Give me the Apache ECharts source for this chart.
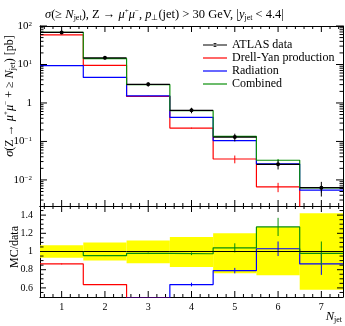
<!DOCTYPE html>
<html><head><meta charset="utf-8">
<script src="https://cdn.jsdelivr.net/npm/echarts@6/dist/echarts.min.js"></script>
<style>html,body{margin:0;padding:0;background:#fff}#c{width:345px;height:326px}</style>
</head><body><div id="c"></div>
<script>
// ---------- data ----------
const nJet = [1, 2, 3, 4, 5, 6, 7];
const xTickLabels = ['1', '2', '3', '4', '5', '6', '7'];
const yTickValues = [0.01, 0.1, 1, 10, 100];
const yTickLabels = ['10{sup|−2}', '10{sup|−1}', '1', '10{sup|1}', '10{sup|2}'];
const ratioTickValues = [0.6, 0.8, 1, 1.2, 1.4];
const ratioTickLabels = ['0.6', '0.8', '1', '1.2', '1.4'];

const atlasData = [68, 14.9, 3.05, 0.645, 0.13, 0.0255, 0.0063];
const atlasErr  = [4.8, 1.5, 0.39, 0.105, 0.029, 0.0068, 0.0026];

const drellYan   = [59, 9.5, 1.48, 0.222, 0.035, 0.0066, 0.0015];
const drellYanErr= [0.3, 0.05, 0.015, 0.006, 0.008, 0.0018, 0.0005];
const radiation  = [9.3, 4.6, 1.52, 0.42, 0.105, 0.026, 0.0054];
const radiationErr=[0.1, 0.05, 0.015, 0.008, 0.004, 0.002, 0.0007];
const combined   = [68.3, 14.2, 3.0, 0.63, 0.135, 0.0324, 0.0062];
const combinedErr= [0.3, 0.07, 0.02, 0.01, 0.007, 0.0026, 0.0008];

const bandLow  = [0.93, 0.90, 0.87, 0.83, 0.76, 0.74, 0.58];
const bandHigh = [1.07, 1.10, 1.12, 1.16, 1.20, 1.27, 1.42];

const ratioDY     = [0.863, 0.637, 0.49, 0.35, 0.27, 0.26, 0.24];
const ratioDYErr  = [0.005, 0.005, 0.01, 0.02, 0.02, 0.03, 0.05];
const ratioRad    = [0.14, 0.31, 0.49, 0.637, 0.79, 1.03, 0.863];
const ratioRadErr = [0.01, 0.01, 0.01, 0.02, 0.03, 0.08, 0.12];
const ratioComb   = [1.0, 0.955, 0.98, 0.975, 1.04, 1.27, 0.98];
const ratioCombErr= [0.005, 0.005, 0.008, 0.015, 0.05, 0.1, 0.13];
const ratioData   = [1, 1, 1, 1, 1, 1, 1];

// ---------- axis ranges ----------
const X_MIN = 0.5, X_MAX = 7.5;
const Y_MIN = 0.0021, Y_MAX = 100;
const R_MIN = 0.5, R_MAX = 1.5;

// ---------- styling ----------
const SERIF = 'Liberation Serif';
const RED = '#ff0000', BLUE = '#0000ff', GREEN = '#0a8f0a', YELLOW = '#ffff00';
const richBase = {
  sup: {fontSize: 7, fontFamily: SERIF, verticalAlign: 'top', lineHeight: 8},
  sub: {fontSize: 8, fontFamily: SERIF, verticalAlign: 'bottom', lineHeight: 8},
  i: {fontStyle: 'italic', fontFamily: SERIF, fontSize: 12.5, lineHeight: 14}
};

// ---------- tick positions ----------
const xMinor = [];
for (let k = 3; k <= 37; k++) { const v = k * 0.2; if (Math.abs(v - Math.round(v)) > 1e-6) xMinor.push(+v.toFixed(2)); }
const yMinor = [];
for (let e = -3; e <= 1; e++) for (let m = 2; m <= 9; m++) { const v = +(m * Math.pow(10, e)).toPrecision(3); if (v > Y_MIN && v < Y_MAX) yMinor.push(v); }
const rMinor = [];
for (let k = 11; k <= 29; k++) { const v = +(k * 0.05).toFixed(2); if (!ratioTickValues.some(t => Math.abs(t - v) < 1e-6)) rMinor.push(v); }

// ---------- builders ----------
function stepData(vals) {
  const d = nJet.map((n, i) => [n - 0.5, vals[i]]);
  d.push([nJet[nJet.length - 1] + 0.5, vals[vals.length - 1]]);
  return d;
}
function errData(vals, errs) { return nJet.map((n, i) => [n, vals[i], vals[i] - errs[i], vals[i] + errs[i]]); }
function stepSeries(name, vals, color, xi, yi) {
  return {type: 'line', name: name, xAxisIndex: xi, yAxisIndex: yi, data: stepData(vals), step: 'end',
    symbol: 'none', lineStyle: {color: color, width: 1.2}, itemStyle: {color: color}, clip: true, z: 3, silent: true};
}
function errSeries(vals, errs, color, xi, yi) {
  return {type: 'custom', xAxisIndex: xi, yAxisIndex: yi, data: errData(vals, errs), clip: true, z: 4, silent: true,
    renderItem: function (params, api) {
      const x = api.value(0);
      const a = api.coord([x, Math.max(api.value(2), 1e-6)]), b = api.coord([x, api.value(3)]);
      return {type: 'line', shape: {x1: a[0], y1: a[1], x2: b[0], y2: b[1]}, style: {stroke: color, lineWidth: 1}};
    }};
}
function dataSeries(vals, errs, xi, yi, showPoint) {
  return {type: 'custom', xAxisIndex: xi, yAxisIndex: yi, data: errData(vals, errs), clip: true, z: 5, silent: true,
    renderItem: function (params, api) {
      const x = api.value(0), v = api.value(1);
      const l = api.coord([x - 0.5, v]), r = api.coord([x + 0.5, v]);
      const a = api.coord([x, Math.max(api.value(2), 1e-6)]), b = api.coord([x, api.value(3)]);
      const c = api.coord([x, v]);
      const ch = [{type: 'line', shape: {x1: l[0], y1: l[1], x2: r[0], y2: r[1]}, style: {stroke: '#000', lineWidth: 1.2}}];
      if (showPoint) {
        ch.push({type: 'line', shape: {x1: a[0], y1: a[1], x2: b[0], y2: b[1]}, style: {stroke: '#000', lineWidth: 1}});
        ch.push({type: 'circle', shape: {cx: c[0], cy: c[1], r: 2}, style: {fill: '#000'}});
      }
      return {type: 'group', children: ch};
    }};
}
function bandSeries(lo, hi, xi, yi) {
  return {type: 'custom', xAxisIndex: xi, yAxisIndex: yi, data: nJet.map((n, i) => [n, lo[i], hi[i]]), clip: true, z: 1, silent: true,
    renderItem: function (params, api) {
      const x = api.value(0);
      const p1 = api.coord([x - 0.5, api.value(2)]), p2 = api.coord([x + 0.5, api.value(1)]);
      return {type: 'rect', shape: {x: p1[0], y: p1[1], width: p2[0] - p1[0], height: p2[1] - p1[1]}, style: {fill: YELLOW}};
    }};
}
// tick marks as thin rectangle symbols placed on the frame through the axes' scales
function tickItems(yLo, yHi, xMaj, xMin, yMaj, yMin2, xLen, yLen) {
  const d = [];
  const xt = (v, len) => {
    d.push({value: [v, yLo], symbolSize: [1, len], symbolOffset: [0, -len / 2]});
    d.push({value: [v, yHi], symbolSize: [1, len], symbolOffset: [0, len / 2]});
  };
  const yt = (v, len) => {
    d.push({value: [X_MIN, v], symbolSize: [len, 1], symbolOffset: [len / 2, 0]});
    d.push({value: [X_MAX, v], symbolSize: [len, 1], symbolOffset: [-len / 2, 0]});
  };
  xMaj.forEach(v => xt(v, xLen)); xMin.forEach(v => xt(v, 3));
  yMaj.forEach(v => yt(v, yLen)); yMin2.forEach(v => yt(v, 3.5));
  return d;
}
function tickScatter(xi, yi, items) {
  return {type: 'scatter', xAxisIndex: xi, yAxisIndex: yi, data: items, symbol: 'rect', clip: false, z: 6, silent: true,
    itemStyle: {color: '#000', opacity: 1}, emphasis: {disabled: true}, large: false};
}

// ---------- axes ----------
const lineStyleAx = {color: '#000', width: 1};
function xAx(grid, pos, showLabel) {
  const ax = {type: 'value', gridIndex: grid, position: pos, min: X_MIN, max: X_MAX, splitLine: {show: false},
    axisLine: {show: true, onZero: false, lineStyle: lineStyleAx}, axisTick: {show: false}, axisLabel: {show: false}};
  if (showLabel) {
    ax.axisLabel = {show: true, customValues: nJet, margin: 5, color: '#000', fontFamily: SERIF, fontSize: 10,
      formatter: v => xTickLabels[nJet.indexOf(Math.round(v))] || ''};
  }
  return ax;
}
function logAx(pos, showLabel) {
  const ax = {type: 'log', logBase: 10, gridIndex: 0, position: pos, min: Y_MIN, max: Y_MAX, splitLine: {show: false},
    axisLine: {show: true, onZero: false, lineStyle: lineStyleAx}, axisTick: {show: false}, axisLabel: {show: false}};
  if (showLabel) {
    ax.axisLabel = {show: true, customValues: yTickValues, margin: 8, color: '#000', fontFamily: SERIF, fontSize: 11,
      rich: {sup: {fontSize: 7, fontFamily: SERIF, verticalAlign: 'top', lineHeight: 8, color: '#000'}},
      formatter: v => { const k = yTickValues.findIndex(t => Math.abs(Math.log10(t) - Math.log10(v)) < 1e-3); return k >= 0 ? yTickLabels[k] : ''; }};
  }
  return ax;
}
function ratioAx(pos, showLabel) {
  const ax = {type: 'value', gridIndex: 1, position: pos, min: R_MIN, max: R_MAX, splitLine: {show: false},
    axisLine: {show: true, onZero: false, lineStyle: lineStyleAx}, axisTick: {show: false}, axisLabel: {show: false}};
  if (showLabel) {
    ax.axisLabel = {show: true, customValues: ratioTickValues, margin: 7, color: '#000', fontFamily: SERIF, fontSize: 10,
      formatter: v => { const k = ratioTickValues.findIndex(t => Math.abs(t - v) < 1e-6); return k >= 0 ? ratioTickLabels[k] : ''; }};
  }
  return ax;
}

const option = {
  animation: false,
  backgroundColor: '#fff',
  title: {
    left: 40, top: 3,
    text: '{i|σ}(≥ {i|N}{sub|jet}), Z → {i|μ}{sup|+}{i|μ}{sup|−}, {i|p}{sub|⊥}(jet) > 30 GeV, |{i|y}{sub|jet} < 4.4|',
    textStyle: {fontFamily: SERIF, fontSize: 12.5, fontWeight: 'normal', color: '#000', lineHeight: 14, rich: richBase}
  },
  grid: [
    {left: 40, right: 2, top: 26, height: 180},
    {left: 40, right: 2, top: 206, height: 91}
  ],
  legend: {
    orient: 'vertical', left: 198, top: 34, itemWidth: 24, itemHeight: 10, itemGap: 1,
    textStyle: {fontFamily: SERIF, fontSize: 12, color: '#000'},
    data: [
      {name: 'ATLAS data', icon: 'path://M0,4.4H24V5.6H0Z M10,5A2,2 0 1 0 14,5A2,2 0 1 0 10,5Z'},
      {name: 'Drell-Yan production', icon: 'path://M0,0H24V1.2H0Z'},
      {name: 'Radiation', icon: 'path://M0,0H24V1.2H0Z'},
      {name: 'Combined', icon: 'path://M0,0H24V1.2H0Z'}
    ]
  },
  xAxis: [
    xAx(0, 'bottom', false),
    xAx(0, 'top', false),
    xAx(1, 'bottom', true),
    xAx(1, 'top', false)
  ],
  yAxis: [
    logAx('left', true),
    logAx('right', false),
    ratioAx('left', true),
    ratioAx('right', false)
  ],
  series: [
    {type: 'line', name: 'ATLAS data', xAxisIndex: 0, yAxisIndex: 0, data: [], symbol: 'circle', symbolSize: 5,
      lineStyle: {color: '#000', width: 1.2}, itemStyle: {color: '#000'}},
    // main panel
    stepSeries('Drell-Yan production', drellYan, RED, 0, 0),
    stepSeries('Radiation', radiation, BLUE, 0, 0),
    stepSeries('Combined', combined, GREEN, 0, 0),
    errSeries(drellYan, drellYanErr, RED, 0, 0),
    errSeries(radiation, radiationErr, BLUE, 0, 0),
    errSeries(combined, combinedErr, GREEN, 0, 0),
    dataSeries(atlasData, atlasErr, 0, 0, true),
    tickScatter(0, 0, tickItems(Y_MIN, Y_MAX, nJet, xMinor, yTickValues, yMinor, 6, 7)),
    // ratio panel
    bandSeries(bandLow, bandHigh, 2, 2),
    dataSeries(ratioData, [0, 0, 0, 0, 0, 0, 0], 2, 2, false),
    stepSeries('Drell-Yan production', ratioDY, RED, 2, 2),
    stepSeries('Radiation', ratioRad, BLUE, 2, 2),
    stepSeries('Combined', ratioComb, GREEN, 2, 2),
    errSeries(ratioDY, ratioDYErr, RED, 2, 2),
    errSeries(ratioRad, ratioRadErr, BLUE, 2, 2),
    errSeries(ratioComb, ratioCombErr, GREEN, 2, 2),
    tickScatter(2, 2, tickItems(R_MIN, R_MAX, nJet, xMinor, ratioTickValues, rMinor, 6, 6))
  ],
  graphic: [
    {type: 'text', x: 10, y: 96, rotation: Math.PI / 2, silent: true,
      style: {text: '{i|σ}(Z → {i|μ}{sup|+}{i|μ}{sup|−} + ≥ {i|N}{sub|jet}) [pb]', align: 'center', verticalAlign: 'middle',
        fontFamily: SERIF, fontSize: 12, fill: '#000', rich: richBase}},
    {type: 'text', x: 15, y: 247, rotation: Math.PI / 2, silent: true,
      style: {text: 'MC/data', align: 'center', verticalAlign: 'middle', fontFamily: SERIF, fontSize: 12, fill: '#000'}},
    {type: 'text', x: 342, y: 317, silent: true,
      style: {text: '{i|N}{sub|jet}', align: 'right', verticalAlign: 'middle', fontFamily: SERIF, fontSize: 12, fill: '#000', rich: richBase}}
  ]
};
const chart = echarts.init(document.getElementById('c'));
chart.setOption(option);
</script>
</body></html>
